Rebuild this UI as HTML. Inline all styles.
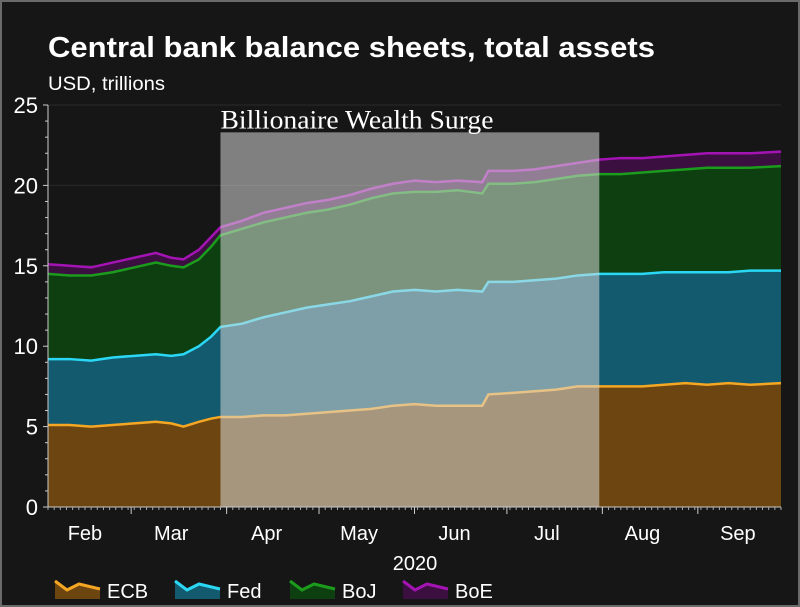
<!DOCTYPE html>
<html><head><meta charset="utf-8"><style>
html,body{margin:0;padding:0;background:#161616;}
#wrap{width:800px;height:607px;position:relative;overflow:hidden;background:#161616;box-sizing:border-box;border:2px solid #6a6a6a;}
svg{position:absolute;left:-2px;top:-2px;font-family:"Liberation Sans",sans-serif;}
</style></head><body>
<div id="wrap">
<svg id="chart" width="800" height="607">
<text x="48" y="57" fill="#fff" font-size="29" font-weight="bold" textLength="607" lengthAdjust="spacingAndGlyphs">Central bank balance sheets, total assets</text>
<text x="48" y="90" fill="#fff" font-size="19" textLength="117" lengthAdjust="spacingAndGlyphs">USD, trillions</text>
<g id="grid"></g><g id="areas"></g><g id="overlay"></g><g id="axes"></g>
<text x="415" y="570" fill="#fff" font-size="20" text-anchor="middle">2020</text>
<g id="legend"></g>
</svg></div>
<script>
const days=[0,7,14,21,28,35,40,44,49,53,56,63,70,77,84,91,98,105,112,119,126,133,141,143,151,158,165,172,179,186,193,200,207,214,221,228,238];
const ecb=[5.1,5.1,5.0,5.1,5.2,5.3,5.2,5.0,5.3,5.5,5.6,5.6,5.7,5.7,5.8,5.9,6.0,6.1,6.3,6.4,6.3,6.3,6.3,7.0,7.1,7.2,7.3,7.5,7.5,7.5,7.5,7.6,7.7,7.6,7.7,7.6,7.7];
const fedStack=[9.2,9.2,9.1,9.3,9.4,9.5,9.4,9.5,10.0,10.6,11.2,11.4,11.8,12.1,12.4,12.6,12.8,13.1,13.4,13.5,13.4,13.5,13.4,14.0,14.0,14.1,14.2,14.4,14.5,14.5,14.5,14.6,14.6,14.6,14.6,14.7,14.7];
const bojStack=[14.5,14.4,14.4,14.6,14.9,15.2,15.0,14.9,15.4,16.2,16.9,17.3,17.7,18.0,18.3,18.5,18.8,19.2,19.5,19.6,19.6,19.7,19.5,20.1,20.1,20.2,20.4,20.6,20.7,20.7,20.8,20.9,21.0,21.1,21.1,21.1,21.2];
const boeStack=[15.1,15.0,14.9,15.2,15.5,15.8,15.5,15.4,16.0,16.8,17.4,17.8,18.3,18.6,18.9,19.1,19.4,19.8,20.1,20.3,20.2,20.3,20.2,20.9,20.9,21.0,21.2,21.4,21.6,21.7,21.7,21.8,21.9,22.0,22.0,22.0,22.1];
const yTicks=[0,5,10,15,20,25];
const monthLabels=["Feb","Mar","Apr","May","Jun","Jul","Aug","Sep"];
const monthMidDays=[12,40,71,101,132,162,193,224];
const monthStartDays=[-2,27,58,88,119,149,180,211];
const highlightDays=[56,179];
const highlightTop=23.3;

const X0=48,X1=781,Y0=507,Y1=105;
const x=d=>X0+(d-0)*(X1-X0)/238;
const y=v=>Y0-(v-0)*(Y0-Y1)/25;
const NS="http://www.w3.org/2000/svg";
function mk(t,a,p){const e=document.createElementNS(NS,t);for(const k in a)e.setAttribute(k,a[k]);p.appendChild(e);return e;}
const grid=document.getElementById('grid'),areas=document.getElementById('areas'),ov=document.getElementById('overlay'),ax=document.getElementById('axes'),lg=document.getElementById('legend');
yTicks.forEach(t=>{
 if(t>0){const g=mk('line',{x1:X0,x2:X1,y1:y(t),y2:y(t),stroke:'#2a2a2a','stroke-width':1},grid);
 
 }
 const l=mk('text',{x:38,y:y(t)+8,fill:'#fff','font-size':22,'text-anchor':'end'},ax);l.textContent=t;
 
 
});
for(let v=0;v<=25;v++){mk('line',{x1:X0-(v%5==0?5:3),x2:X0,y1:y(v),y2:y(v),stroke:'#ccc','stroke-width':1},ax);}
const series=[
 {name:'BoE',top:boeStack,bot:bojStack,fill:'#3b0f40',line:'#a414b4'},
 {name:'BoJ',top:bojStack,bot:fedStack,fill:'#0d3f10',line:'#1c9c1c'},
 {name:'Fed',top:fedStack,bot:ecb,fill:'#135a6e',line:'#2ad8f5'},
 {name:'ECB',top:ecb,bot:days.map(()=>0),fill:'#6c4510',line:'#f5a623'}];
series.forEach(s=>{
 let d='M'+days.map((dd,i)=>x(dd)+','+y(s.top[i])).join(' L');
 for(let i=days.length-1;i>=0;i--)d+=' L'+x(days[i])+','+y(s.bot[i]);
 const a=mk('path',{d:d+'Z',fill:s.fill},areas);
 
 
 const ln=mk('path',{d:'M'+days.map((dd,i)=>x(dd)+','+y(s.top[i])).join(' L'),fill:'none',stroke:s.line,'stroke-width':2.5},areas);
 
 
});
const r=mk('rect',{x:x(highlightDays[0]),y:y(highlightTop),width:x(highlightDays[1])-x(highlightDays[0]),height:Y0-y(highlightTop),fill:'#d8d8d8','fill-opacity':0.55},ov);


const ht=mk('text',{x:x(highlightDays[0]),y:y(highlightTop)-4,fill:'#fff','font-size':26,'font-family':'Liberation Serif, serif',textLength:273,lengthAdjust:'spacingAndGlyphs'},ov);ht.textContent='Billionaire Wealth Surge';


mk('line',{x1:X0,x2:X0,y1:Y1,y2:Y0,stroke:'#ccc','stroke-width':1},ax);
mk('line',{x1:X0,x2:X1,y1:Y0,y2:Y0,stroke:'#ccc','stroke-width':1},ax);
for(let d=0;d<=238;d+=2)mk('line',{x1:x(d),x2:x(d),y1:Y0,y2:Y0+3,stroke:'#aaa','stroke-width':1},ax);
monthStartDays.forEach(d=>{if(d>=0)mk('line',{x1:x(d),x2:x(d),y1:Y0,y2:Y0+7,stroke:'#ccc','stroke-width':1},ax);});
monthLabels.forEach((m,i)=>{const t=mk('text',{x:x(monthMidDays[i]),y:540,fill:'#fff','font-size':20,'text-anchor':'middle'},ax);t.textContent=m;
 
 });
[{n:'ECB',f:'#6c4510',l:'#f5a623',x:55},{n:'Fed',f:'#135a6e',l:'#2ad8f5',x:175},{n:'BoJ',f:'#0d3f10',l:'#1c9c1c',x:290},{n:'BoE',f:'#3b0f40',l:'#a414b4',x:403}].forEach(e=>{
 const g=mk('g',{},lg);
 
 
 const bx=e.x,by=581;
 mk('path',{d:`M${bx},${by} L${bx+12},${by+9} L${bx+24},${by+3} L${bx+45},${by+8} L${bx+45},${by+18} L${bx},${by+18}Z`,fill:e.f},g);
 mk('path',{d:`M${bx},${by} L${bx+12},${by+9} L${bx+24},${by+3} L${bx+45},${by+8}`,fill:'none',stroke:e.l,'stroke-width':3},g);
 const t=mk('text',{x:bx+52,y:598,fill:'#fff','font-size':20},g);t.textContent=e.n;
});
</script>
</body></html>
